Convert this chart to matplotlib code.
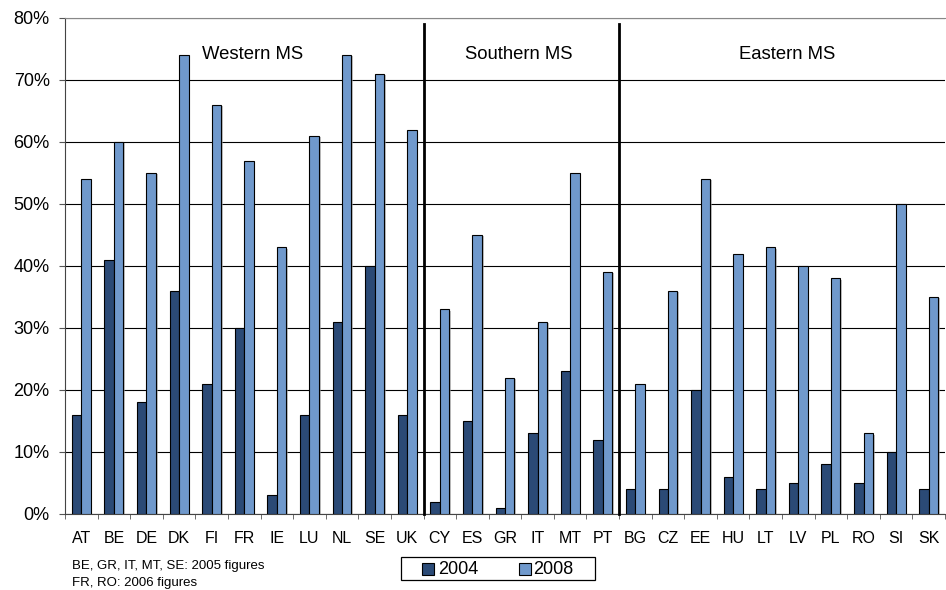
import matplotlib
matplotlib.use("Agg")
import matplotlib.pyplot as plt
import matplotlib.patheffects as pe
import numpy as np
from matplotlib.patches import Rectangle

plt.rcParams['font.family'] = ['Liberation Sans', 'DejaVu Sans']

countries = ["AT", "BE", "DE", "DK", "FI", "FR", "IE", "LU", "NL", "SE", "UK",
             "CY", "ES", "GR", "IT", "MT", "PT",
             "BG", "CZ", "EE", "HU", "LT", "LV", "PL", "RO", "SI", "SK"]
v2004 = [16, 41, 18, 36, 21, 30, 3, 16, 31, 40, 16,
         2, 15, 1, 13, 23, 12,
         4, 4, 20, 6, 4, 5, 8, 5, 10, 4]
v2008 = [54, 60, 55, 74, 66, 57, 43, 61, 74, 71, 62,
         33, 45, 22, 31, 55, 39,
         21, 36, 54, 42, 43, 40, 38, 13, 50, 35]
groups = ["Western MS", "Southern MS", "Eastern MS"]
group_sizes = [11, 6, 10]
series_names = ["2004", "2008"]
footnote = ["BE, GR, IT, MT, SE: 2005 figures", "FR, RO: 2006 figures"]

c_dark = "#2B4A76"
c_light = "#7099CC"

W, H = 946, 590


def fpx(x, y):
    """Pixel position (from top-left) to figure fraction."""
    return x / W, 1 - y / H


fig = plt.figure(figsize=(W / 100, H / 100), dpi=100)
ax = fig.add_axes([65 / W, 1 - 514 / H, 880 / W, 496 / H])

shadow = [pe.SimplePatchShadow(offset=(1.2, -0.8), shadow_rgbFace="#999999", alpha=0.6),
          pe.Normal()]
x = np.arange(len(countries))
w = 0.29
b1 = ax.bar(x - w / 2, v2004, w, color=c_dark, edgecolor="black", linewidth=0.8, zorder=3)
b2 = ax.bar(x + w / 2, v2008, w, color=c_light, edgecolor="black", linewidth=0.8, zorder=3)
for p in list(b1) + list(b2):
    p.set_path_effects(shadow)

ax.set_xlim(-0.5, len(countries) - 0.5)
ax.set_ylim(0, 80)
ax.set_yticks(np.arange(0, 81, 10))
ax.set_yticklabels([f"{v}%" for v in range(0, 81, 10)], fontsize=13)
ax.yaxis.grid(True, color="black", linewidth=0.8, zorder=0)
ax.set_axisbelow(True)

ax.set_xticks(x)
ax.set_xticklabels(countries, fontsize=11.5)
ax.set_xticks(np.arange(-0.5, len(countries), 1), minor=True)
ax.tick_params(axis="x", which="major", length=0, pad=12.5)
ax.tick_params(axis="x", which="minor", length=3.5, color="#555555", direction="out")
ax.tick_params(axis="y", length=4.5, color="#555555", direction="out", pad=6.5)

ax.spines["right"].set_visible(False)
ax.spines["top"].set_color("#888888")
ax.spines["left"].set_color("#444444")
ax.spines["bottom"].set_color("#444444")

# group separators and labels
bounds = np.cumsum([0] + group_sizes) - 0.5
for b in bounds[1:-1]:
    ax.plot([b, b], [0, 79], color="black", linewidth=2, zorder=4, clip_on=False)
label_x = [5.27, 13.43, 21.65]
for name, lx in zip(groups, label_x):
    ax.text(lx, 74.1, name, ha="center", va="center", fontsize=13.3)

# legend box
x0, y0 = fpx(401, 580)
x1, y1 = fpx(594.7, 557.3)
fig.add_artist(Rectangle((x0, y0), x1 - x0, y1 - y0, transform=fig.transFigure,
                         facecolor="white", edgecolor="black", linewidth=0.9))
for (px0, tx), col, name in zip([(422.3, 437.7), (519.3, 533.3)], [c_dark, c_light], series_names):
    bx, by = fpx(px0, 575)
    bw = 12 / W
    bh = 11.7 / H
    fig.add_artist(Rectangle((bx, by), bw, bh, transform=fig.transFigure,
                             facecolor=col, edgecolor="black", linewidth=0.8))
    tx_f, ty_f = fpx(tx, 569.5)
    fig.text(tx_f, ty_f, name, fontsize=13, ha="left", va="center")

fig.text(*fpx(72, 566), footnote[0], fontsize=9.5, va="center")
fig.text(*fpx(72, 583), footnote[1], fontsize=9.5, va="center")

fig.savefig("out.png", dpi=100)
